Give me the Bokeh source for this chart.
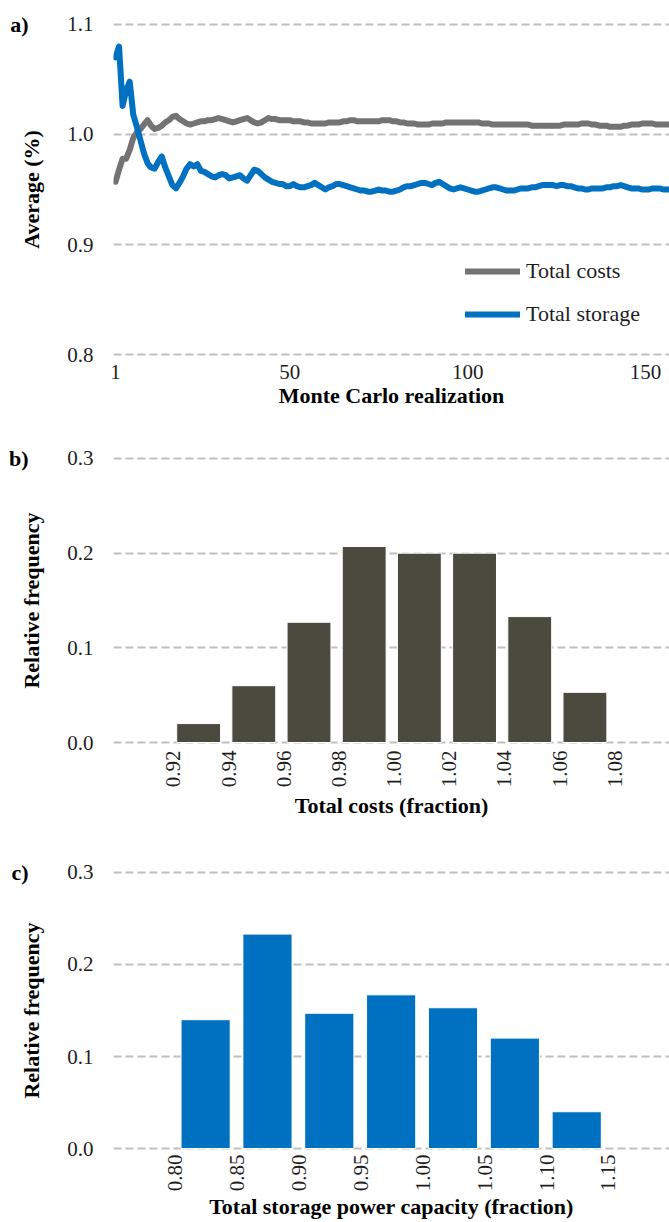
import math

from bokeh.embed import file_html
from bokeh.layouts import column
from bokeh.models import (ColumnDataSource, FixedTicker, Legend, LegendItem,
                          LinearAxis, NumeralTickFormatter, Range1d)
from bokeh.plotting import figure
from bokeh.resources import INLINE

# ---------------------------------------------------------------- data
realization = list(range(1, 158))

avg_total_costs = [
    0.957, 0.968, 0.978, 0.978, 0.986, 0.997, 1.002, 1.005, 1.009, 1.013,
    1.008, 1.005, 1.006, 1.008, 1.011, 1.013, 1.016, 1.017, 1.014, 1.012,
    1.010, 1.009, 1.010, 1.011, 1.012, 1.012, 1.013, 1.013, 1.014, 1.015,
    1.014, 1.013, 1.012, 1.011, 1.012, 1.013, 1.014, 1.015, 1.013, 1.011,
    1.010, 1.011, 1.013, 1.015, 1.014, 1.014, 1.013, 1.013, 1.013, 1.013,
    1.012, 1.012, 1.012, 1.011, 1.011, 1.010, 1.010, 1.010, 1.010, 1.010,
    1.011, 1.011, 1.011, 1.011, 1.012, 1.012, 1.013, 1.013, 1.012, 1.012,
    1.012, 1.012, 1.012, 1.012, 1.012, 1.013, 1.013, 1.013, 1.012, 1.012,
    1.011, 1.011, 1.010, 1.010, 1.010, 1.009, 1.009, 1.009, 1.009, 1.010,
    1.010, 1.010, 1.010, 1.011, 1.011, 1.011, 1.011, 1.011, 1.011, 1.011,
    1.011, 1.011, 1.011, 1.010, 1.010, 1.010, 1.009, 1.009, 1.009, 1.009,
    1.009, 1.009, 1.009, 1.009, 1.009, 1.009, 1.009, 1.008, 1.008, 1.008,
    1.008, 1.008, 1.008, 1.008, 1.008, 1.008, 1.009, 1.009, 1.009, 1.009,
    1.009, 1.010, 1.010, 1.010, 1.009, 1.009, 1.008, 1.008, 1.008, 1.007,
    1.007, 1.007, 1.007, 1.008, 1.008, 1.009, 1.009, 1.009, 1.010, 1.010,
    1.010, 1.010, 1.009, 1.009, 1.009, 1.009, 1.009,
]

avg_total_storage = [
    1.070, 1.080, 1.026, 1.040, 1.048, 1.018, 1.007, 0.995, 0.983, 0.974,
    0.970, 0.969, 0.975, 0.980, 0.970, 0.962, 0.954, 0.951, 0.956, 0.962,
    0.969, 0.973, 0.971, 0.973, 0.967, 0.966, 0.964, 0.962, 0.961, 0.963,
    0.964, 0.963, 0.960, 0.961, 0.962, 0.963, 0.960, 0.958, 0.963, 0.968,
    0.967, 0.964, 0.961, 0.959, 0.957, 0.956, 0.955, 0.955, 0.953, 0.953,
    0.955, 0.953, 0.952, 0.952, 0.953, 0.954, 0.956, 0.954, 0.952, 0.950,
    0.952, 0.953, 0.955, 0.955, 0.954, 0.953, 0.952, 0.951, 0.950, 0.949,
    0.949, 0.948, 0.948, 0.949, 0.950, 0.949, 0.949, 0.948, 0.948, 0.949,
    0.950, 0.952, 0.953, 0.953, 0.954, 0.955, 0.956, 0.956, 0.955, 0.954,
    0.956, 0.957, 0.955, 0.953, 0.951, 0.950, 0.951, 0.952, 0.951, 0.950,
    0.949, 0.948, 0.948, 0.949, 0.950, 0.951, 0.952, 0.952, 0.951, 0.950,
    0.949, 0.949, 0.949, 0.950, 0.951, 0.951, 0.951, 0.952, 0.952, 0.953,
    0.954, 0.954, 0.954, 0.954, 0.953, 0.954, 0.954, 0.953, 0.953, 0.952,
    0.951, 0.951, 0.950, 0.950, 0.951, 0.951, 0.951, 0.951, 0.952, 0.952,
    0.953, 0.953, 0.954, 0.953, 0.952, 0.951, 0.951, 0.951, 0.950, 0.950,
    0.950, 0.951, 0.951, 0.951, 0.950, 0.950, 0.950,
]

avg_ticks = [0.8, 0.9, 1.0, 1.1]
realization_ticks = [1, 50, 100, 150]

cost_bin_edges = [0.92, 0.94, 0.96, 0.98, 1.00, 1.02, 1.04, 1.06, 1.08]
cost_rel_freq = [0.020, 0.060, 0.127, 0.207, 0.200, 0.200, 0.133, 0.053]

storage_bin_edges = [0.80, 0.85, 0.90, 0.95, 1.00, 1.05, 1.10, 1.15]
storage_rel_freq = [0.140, 0.233, 0.147, 0.167, 0.153, 0.120, 0.040]

freq_ticks = [0.0, 0.1, 0.2, 0.3]

# ---------------------------------------------------------------- style
FONT = "Liberation Serif"
GRID = "#BFBFBF"
GREY_LINE = "#737373"
BLUE = "#0070C0"
DARK_BAR = "#4B4A3F"
TICK_TEXT = "#1E1E1E"


def make_panel(height, x_range, y_range, top, bottom):
    p = figure(width=669, height=height, x_range=x_range, y_range=y_range,
               output_backend="svg", toolbar_location=None,
               min_border_left=113, min_border_right=0,
               min_border_top=top, min_border_bottom=bottom)
    p.outline_line_color = None
    p.background_fill_color = "white"
    p.border_fill_color = "white"
    p.xgrid.visible = False
    p.ygrid.grid_line_color = GRID
    p.ygrid.grid_line_width = 2
    p.ygrid.grid_line_dash = "8 4"
    for ax in (p.xaxis[0], p.yaxis[0]):
        ax.axis_line_color = None
        ax.major_tick_line_color = None
        ax.minor_tick_line_color = None
        ax.major_tick_out = 0
        ax.major_tick_in = 0
        ax.major_label_text_font = FONT
        ax.major_label_text_font_size = "21px"
        ax.major_label_text_color = TICK_TEXT
        ax.axis_label_text_font = FONT
        ax.axis_label_text_font_size = "22px"
        ax.axis_label_text_font_style = "bold"
        ax.axis_label_text_color = "black"
    p.yaxis.major_label_standoff = 20
    p.yaxis.axis_label_standoff = 20
    p.yaxis.formatter = NumeralTickFormatter(format="0.0")
    return p


def panel_tag(p, text, at):
    # outer left axis carrying only the panel letter, level with the top gridline
    tag = LinearAxis(ticker=FixedTicker(ticks=[at]),
                     major_label_overrides={at: text},
                     axis_line_color=None, major_tick_line_color=None,
                     minor_tick_line_color=None, major_tick_in=0,
                     major_tick_out=0, major_label_standoff=-12,
                     major_label_text_font=FONT,
                     major_label_text_font_size="22px",
                     major_label_text_font_style="bold",
                     major_label_text_color="black")
    p.add_layout(tag, "left")


# ---------------------------------------------------------------- a) running averages
pa = make_panel(420, Range1d(0.44, 156.75), Range1d(0.7982, 1.1018), 22, 64)
src = ColumnDataSource(dict(x=realization, costs=avg_total_costs,
                            storage=avg_total_storage))
r_cost = pa.line("x", "costs", source=src, line_color=GREY_LINE, line_width=6,
                 line_cap="round", line_join="round")
r_store = pa.line("x", "storage", source=src, line_color=BLUE, line_width=6,
                  line_cap="round", line_join="round")
pa.yaxis.ticker = FixedTicker(ticks=avg_ticks)
pa.xaxis.ticker = FixedTicker(ticks=realization_ticks)
pa.xaxis.major_label_standoff = 8
pa.xaxis.axis_label_standoff = 1
pa.yaxis.axis_label = "Average (%)"
pa.xaxis.axis_label = "Monte Carlo realization"
legend = Legend(items=[LegendItem(label="Total costs", renderers=[r_cost]),
                       LegendItem(label="Total storage", renderers=[r_store])],
                location=(352, 29), orientation="vertical", padding=0, margin=0,
                border_line_color=None, background_fill_alpha=0,
                glyph_width=55, glyph_height=24, label_height=24,
                label_standoff=6, spacing=17, label_text_font=FONT,
                label_text_font_size="22px", label_text_color=TICK_TEXT)
pa.add_layout(legend)
panel_tag(pa, "a)", avg_ticks[-1])


# ---------------------------------------------------------------- histograms
def histogram(p, edges, freq, color, lo, hi):
    w = edges[1] - edges[0]
    left = [e + lo * w for e in edges[:-1]]
    right = [e + hi * w for e in edges[:-1]]
    p.quad(left=left, right=right, bottom=0, top=freq, fill_color=color,
           line_color="white", line_width=1)
    p.xaxis.ticker = FixedTicker(ticks=edges)
    p.xaxis.formatter = NumeralTickFormatter(format="0.00")
    p.xaxis.major_label_orientation = math.pi / 2
    p.xaxis.major_label_standoff = 6
    p.xaxis.axis_label_standoff = 3
    p.yaxis.ticker = FixedTicker(ticks=freq_ticks)
    p.yaxis.axis_label = "Relative frequency"


pb = make_panel(420, Range1d(0.8983, 1.0998), Range1d(-0.0021, 0.3021), 36, 96)
histogram(pb, cost_bin_edges, cost_rel_freq, DARK_BAR, 0.06, 0.855)
pb.xaxis.axis_label = "Total costs (fraction)"
panel_tag(pb, "b)", freq_ticks[-1])

pc = make_panel(382, Range1d(0.7499, 1.1994), Range1d(-0.0021, 0.3021), 30, 69)
histogram(pc, storage_bin_edges, storage_rel_freq, BLUE, 0.09, 0.885)
pc.xaxis.axis_label = "Total storage power capacity (fraction)"
pc.xaxis.major_label_standoff = 4
pc.xaxis.axis_label_standoff = 0
panel_tag(pc, "c)", freq_ticks[-1])

layout = column(pa, pb, pc, spacing=0)

with open("out.html", "w") as f:
    f.write(file_html(layout, INLINE))
